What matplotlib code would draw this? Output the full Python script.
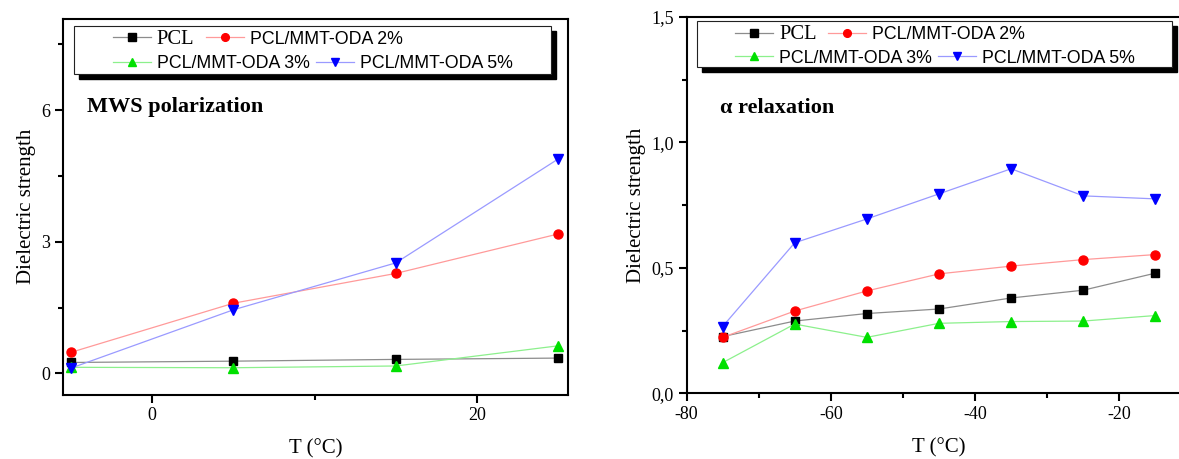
import matplotlib
import matplotlib.pyplot as plt
from matplotlib.patches import Rectangle
from matplotlib.ticker import MultipleLocator, FuncFormatter
from matplotlib.transforms import offset_copy

SERIF = "Liberation Serif"
SANS = "Liberation Sans"

matplotlib.rcParams["axes.unicode_minus"] = False
matplotlib.rcParams["font.family"] = [SERIF, "DejaVu Sans"]

# ---------------------------------------------------------------------------
# Data
# ---------------------------------------------------------------------------
T_MWS = [-5, 5, 15, 25]
MWS_PCL = [0.25, 0.28, 0.32, 0.35]
MWS_2 = [0.48, 1.60, 2.28, 3.18]
MWS_3 = [0.14, 0.13, 0.17, 0.63]
MWS_5 = [0.12, 1.45, 2.52, 4.89]

T_ALPHA = [-75, -65, -55, -45, -35, -25, -15]
ALPHA_PCL = [0.226, 0.288, 0.318, 0.336, 0.380, 0.411, 0.479]
ALPHA_2 = [0.223, 0.328, 0.408, 0.476, 0.507, 0.533, 0.553]
ALPHA_3 = [0.122, 0.276, 0.223, 0.279, 0.286, 0.288, 0.310]
ALPHA_5 = [0.266, 0.600, 0.695, 0.795, 0.895, 0.787, 0.775]

LABELS = ["PCL", "PCL/MMT-ODA 2%", "PCL/MMT-ODA 3%", "PCL/MMT-ODA 5%"]

# line colour, marker colour, marker, marker size
STYLES = [
    ("#8c8c8c", "#000000", "s", 6),
    ("#ff9a9a", "#ff0000", "o", 6.5),
    ("#8cf08c", "#00e000", "^", 7),
    ("#9a9aff", "#0000ff", "v", 7),
]

W, H = 1179, 459
fig = plt.figure(figsize=(W / 100, H / 100), dpi=100, facecolor="white")


def px_axes(left, right, top, bottom):
    return fig.add_axes([left / W, 1 - bottom / H, (right - left) / W, (bottom - top) / H])


ax1 = px_axes(63, 568, 19, 394.5)
ax2 = px_axes(686.5, 1191.5, 17, 393.3)


def draw(ax, x, series):
    handles = []
    for y, (lc, mc, mk, ms) in zip(series, STYLES):
        h, = ax.plot(x, y, color=lc, lw=0.9, marker=mk, ms=ms,
                     mfc=mc, mec=mc, zorder=3)
        handles.append(h)
    return handles


def style_axes(ax):
    for sp in ax.spines.values():
        sp.set_linewidth(1.5)
        sp.set_color("black")
    ax.tick_params(which="both", direction="out", width=1.5, labelsize=13, pad=3)
    ax.tick_params(which="major", length=6)
    ax.tick_params(which="minor", length=3.5)
    ax.tick_params(top=False, right=False, which="both")
    ax.set_xlabel("T (°C)", fontsize=15, labelpad=11)
    ax.set_ylabel("Dielectric strength", fontsize=15, labelpad=4)


def legend_box(ax, frame):
    # frame + drop shadow
    x0, x1, y0, y1 = frame
    shadow = Rectangle((x0, y0), x1 - x0, y1 - y0, facecolor="black", edgecolor="black",
                       transform=offset_copy(ax.transAxes, fig=fig, x=5, y=-5, units="dots"),
                       zorder=8, clip_on=False)
    box = Rectangle((x0, y0), x1 - x0, y1 - y0, facecolor="white", edgecolor="#222222",
                    lw=0.8, transform=ax.transAxes, zorder=9, clip_on=False)
    ax.add_patch(shadow)
    ax.add_patch(box)


def legend_rows(ax, handles, rows_y, hx):
    legs = []
    for i, (ry, spacing) in enumerate(zip(rows_y, (0.62, 0.34))):
        hs = handles[2 * i:2 * i + 2]
        leg = ax.legend(hs, LABELS[2 * i:2 * i + 2], loc="center left",
                        bbox_to_anchor=(hx, ry), ncol=2, frameon=False,
                        borderpad=0, borderaxespad=0, handlelength=2.15,
                        handletextpad=0.34, columnspacing=spacing,
                        prop={"family": SANS, "size": 12.8}, markerscale=0.85)
        leg.set_zorder(10)
        if i == 0:
            leg.get_texts()[0].set_fontfamily(SERIF)
            leg.get_texts()[0].set_fontsize(14.8)
        legs.append(leg)
    for leg in legs[:-1]:
        ax.add_artist(leg)


# ── Left panel: MWS polarization ────────────────────────────────────────────
h1 = draw(ax1, T_MWS, [MWS_PCL, MWS_2, MWS_3, MWS_5])
ax1.set_xlim(-5.48, 25.6)
ax1.set_ylim(-0.48, 8.08)
ax1.xaxis.set_major_locator(MultipleLocator(20))
ax1.xaxis.set_minor_locator(MultipleLocator(10))
ax1.yaxis.set_major_locator(MultipleLocator(3))
ax1.yaxis.set_minor_locator(MultipleLocator(1.5))
style_axes(ax1)
legend_box(ax1, (0.0218, 0.9663, 0.8527, 0.9822))
legend_rows(ax1, h1, (0.9467, 0.882), 0.0984)
ax1.text(0.047, 0.766, "MWS polarization", transform=ax1.transAxes,
         fontsize=16, fontweight="bold", va="center", ha="left")

# ── Right panel: alpha relaxation ───────────────────────────────────────────
h2 = draw(ax2, T_ALPHA, [ALPHA_PCL, ALPHA_2, ALPHA_3, ALPHA_5])
ax2.set_xlim(-80, -10)
ax2.set_ylim(0, 1.5)
ax2.xaxis.set_major_locator(MultipleLocator(20))
ax2.xaxis.set_minor_locator(MultipleLocator(10))
ax2.yaxis.set_major_locator(MultipleLocator(0.5))
ax2.yaxis.set_minor_locator(MultipleLocator(0.25))
ax2.yaxis.set_major_formatter(FuncFormatter(lambda v, p: f"{v:.1f}".replace(".", ",")))
style_axes(ax2)
legend_box(ax2, (0.0202, 0.9614, 0.8663, 0.9902))
legend_rows(ax2, h2, (0.9522, 0.8907), 0.096)
ax2.text(0.0663, 0.758, "α relaxation", transform=ax2.transAxes,
         fontsize=16, fontweight="bold", va="center", ha="left")

fig.savefig("out.png", dpi=100, facecolor="white")
